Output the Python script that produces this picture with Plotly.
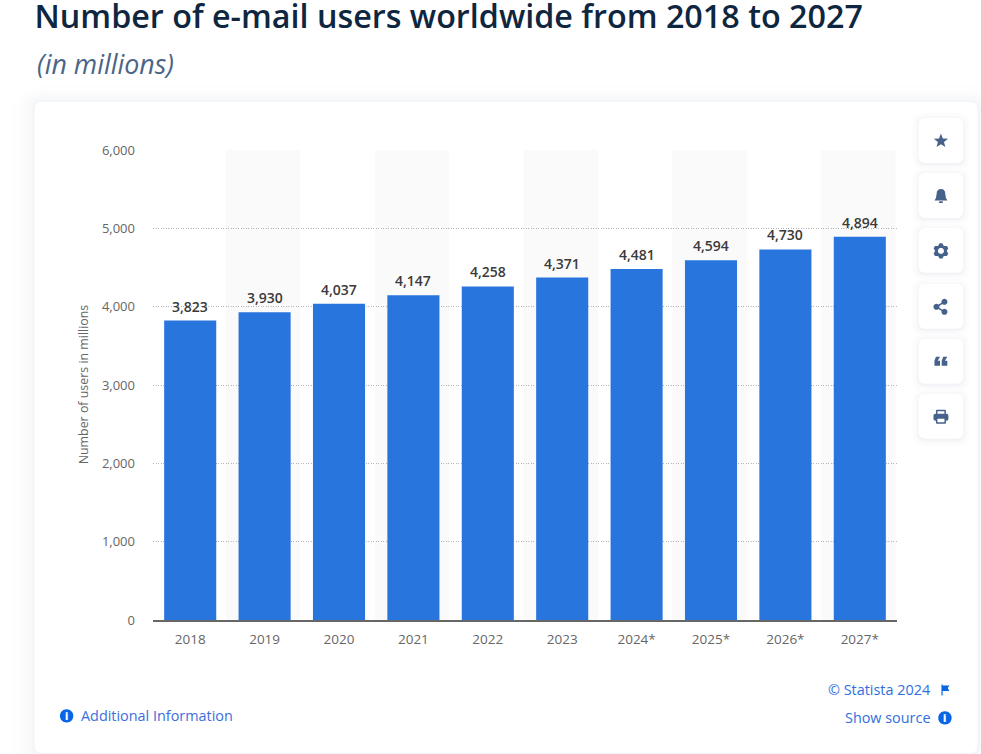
import math
import plotly.graph_objects as go

years = ["2018", "2019", "2020", "2021", "2022", "2023", "2024*", "2025*", "2026*", "2027*"]
users = [3823, 3930, 4037, 4147, 4258, 4371, 4481, 4594, 4730, 4894]
y_ticks = [0, 1000, 2000, 3000, 4000, 5000, 6000]
y_labels = ["0", "1,000", "2,000", "3,000", "4,000", "5,000", "6,000"]

W, H = 981, 754
L, R, T, B = 152.5, 897.5, 149, 620.5
Y_TOP = 6012.7
FONT = "Open Sans"
BLUE = "#2975de"
LINK = "#0666e5"
ICON = "#46628a"


def px(x):
    return (x - L) / (R - L)


def py(y):
    return (B - y) / (B - T)


def pt(x, y):
    return f"{px(x):.5f},{py(y):.5f}"


def poly(points):
    return "M" + " L".join(pt(x, y) for x, y in points) + " Z"


def rrect(x0, y0, x1, y1, r):
    return (
        f"M{pt(x0 + r, y0)} L{pt(x1 - r, y0)} Q{pt(x1, y0)} {pt(x1, y0 + r)} "
        f"L{pt(x1, y1 - r)} Q{pt(x1, y1)} {pt(x1 - r, y1)} "
        f"L{pt(x0 + r, y1)} Q{pt(x0, y1)} {pt(x0, y1 - r)} "
        f"L{pt(x0, y0 + r)} Q{pt(x0, y0)} {pt(x0 + r, y0)} Z"
    )


def circle(cx, cy, r, n=24):
    return poly([(cx + r * math.cos(2 * math.pi * i / n), cy + r * math.sin(2 * math.pi * i / n)) for i in range(n)])


def fill(path, color):
    return dict(type="path", xref="paper", yref="paper", path=path, fillcolor=color, line_width=0, layer="below")


shapes = []
# soft shadow and card
for grow, col in [(24, "#fefefe"), (18, "#fdfdfe"), (13, "#fbfbfc"), (8, "#f8f9fa"), (3, "#f4f5f8")]:
    shapes.append(fill(rrect(34 - grow, 102 - grow * 0.7, 978 + grow, 754 + grow, 8 + grow), col))
shapes.append(fill(rrect(34, 102, 978, 753.5, 7), "#ffffff"))

# alternating bands
for i in range(1, len(years), 2):
    shapes.append(dict(type="rect", xref="x", yref="y", x0=i - 0.52, x1=i + 0.48, y0=0, y1=6000,
                       fillcolor="#fafafa", line_width=0, layer="below"))

# side buttons
centers = [141, 196, 251, 307, 362, 417]
for cy in centers:
    for grow, col in [(6, "#fcfcfd"), (3, "#f8f9fa"), (1, "#f2f3f6")]:
        shapes.append(fill(rrect(919 - grow, cy - 23 - grow + 1, 964 + grow, cy + 22 + grow + 1, 7 + grow), col))
    shapes.append(fill(rrect(919, cy - 23, 964, cy + 22, 7), "#ffffff"))

cx = 941.5
# star
c = centers[0]
star = []
for i in range(10):
    r = 7.5 if i % 2 == 0 else 3.2
    a = -math.pi / 2 + i * math.pi / 5
    star.append((cx + r * math.cos(a), c + r * math.sin(a)))
shapes.append(fill(poly(star), ICON))
# bell
c = centers[1]
bell = [(cx, c - 7), (cx + 2.5, c - 6.5), (cx + 4, c - 4.5), (cx + 4.5, c - 1), (cx + 5, c + 2), (cx + 6.5, c + 4.5),
        (cx - 6.5, c + 4.5), (cx - 5, c + 2), (cx - 4.5, c - 1), (cx - 4, c - 4.5), (cx - 2.5, c - 6.5)]
shapes.append(fill(poly(bell), ICON))
shapes.append(fill(rrect(cx - 2, c + 5.3, cx + 2, c + 7, 0.8), ICON))
# gear
c = centers[2]
gear = []
for i in range(18):
    r = 7.8 if i % 3 in (0, 1) else 5.8
    a = i * 2 * math.pi / 18 - math.pi / 2 - math.pi / 18
    gear.append((cx + r * math.cos(a), c + r * math.sin(a)))
shapes.append(fill(poly(gear), ICON))
shapes.append(fill(circle(cx, c, 3), "#ffffff"))
# share
c = centers[3]
for x, y in [(cx - 4.5, c), (cx + 3.5, c - 5), (cx + 3.5, c + 5)]:
    shapes.append(fill(circle(x, y, 3), ICON))
shapes.append(dict(type="path", xref="paper", yref="paper", layer="below", line=dict(color=ICON, width=1.6),
                   path=f"M{pt(cx + 3.5, c - 5)} L{pt(cx - 4.5, c)} L{pt(cx + 3.5, c + 5)}"))
# quote marks
c = centers[4]
for x0 in (cx - 6.5, cx + 0.8):
    shapes.append(fill(poly([(x0, c - 1), (x0 + 1.5, c - 5), (x0 + 5.6, c - 5), (x0 + 3.2, c - 1),
                             (x0 + 5.6, c - 1), (x0 + 5.6, c + 4), (x0, c + 4)]), ICON))
# printer
c = centers[5]
shapes.append(fill(rrect(cx - 5, c - 7, cx + 5, c - 2, 1), ICON))
shapes.append(fill(rrect(cx - 3.5, c - 5.5, cx + 3.5, c - 2, 0.5), "#ffffff"))
shapes.append(fill(rrect(cx - 7.5, c - 3, cx + 7.5, c + 4, 2), ICON))
shapes.append(fill(rrect(cx - 5, c + 1, cx + 5, c + 7, 1), ICON))
shapes.append(fill(rrect(cx - 3.5, c + 2, cx + 3.5, c + 5.5, 0.5), "#ffffff"))
# flag
shapes.append(fill(poly([(942, 685), (943.2, 685), (943.2, 686), (950, 686), (948.3, 688.6), (950, 691.5),
                         (943.2, 691.5), (943.2, 696), (942, 696)]), LINK))
# info icons
shapes.append(fill(circle(945.5, 718.5, 6.7), LINK))
shapes.append(fill(circle(66, 716.5, 6.7), LINK))


def note(x, y, text, size, color, anchor="left", **kw):
    font = dict(family=FONT, size=size, color=color)
    font.update(kw.pop("font", {}))
    return dict(xref="paper", yref="paper", x=px(x), y=py(y), text=text, showarrow=False, xanchor=anchor,
                yanchor="middle", font=font, **kw)


annotations = [
    note(34, 63, "<i>(in millions)</i>", 26.8, "#4a6586"),
    note(933, 690, "© Statista 2024", 14.4, "#2f6fe0", anchor="right"),
    note(933, 718.5, "Show source", 14.4, "#2f6fe0", anchor="right"),
    note(78.5, 716.5, "Additional Information", 14.4, "#3a6ee0"),
    note(945.5, 718.5, "i", 10, "#ffffff", anchor="center", font=dict(weight=800)),
    note(66, 716.5, "i", 10, "#ffffff", anchor="center", font=dict(weight=800)),
]

# value labels, anchored to each bar through the data axes
for i, value in enumerate(users):
    annotations.append(dict(
        xref="x", yref="y", x=i, y=value, text=f"{value:,}", showarrow=False,
        xanchor="center", yanchor="bottom", yshift=3,
        font=dict(family=FONT, size=14, color="#3a3a3a", weight=600),
    ))

fig = go.Figure(
    go.Bar(
        x=years,
        y=users,
        width=0.7,
        marker=dict(color=BLUE, line_width=0),
        hoverinfo="skip",
    )
)

fig.update_layout(
    width=W,
    height=H,
    autosize=False,
    showlegend=False,
    paper_bgcolor="#ffffff",
    plot_bgcolor="rgba(0,0,0,0)",
    margin=dict(l=L, r=W - R, t=T, b=H - B, pad=0, autoexpand=False),
    font=dict(family=FONT),
    title=dict(
        text="Number of e-mail users worldwide from 2018 to 2027",
        x=34.5 / W,
        xanchor="left",
        xref="container",
        y=1 - 17 / H,
        yref="container",
        yanchor="middle",
        font=dict(family=FONT, size=32.3, color="#0f2640", weight=600),
    ),
    shapes=shapes,
    annotations=annotations,
    bargap=0.3,
    xaxis=dict(
        type="category",
        categoryorder="array",
        categoryarray=years,
        range=[-0.5, len(years) - 0.5],
        showline=True,
        linecolor="#666666",
        linewidth=1.5,
        showgrid=False,
        zeroline=False,
        ticks="",
        ticklabelstandoff=6,
        tickfont=dict(family=FONT, size=13.5, color="#666666"),
    ),
    yaxis=dict(
        range=[0, Y_TOP],
        tickmode="array",
        tickvals=y_ticks,
        ticktext=y_labels,
        showline=False,
        zeroline=False,
        showgrid=True,
        gridcolor="#b5b5b5",
        griddash="1px,1.5px",
        gridwidth=1,
        ticks="",
        ticklabelstandoff=17,
        tickfont=dict(family=FONT, size=13, color="#666666"),
        title=dict(text="Number of users in millions", standoff=10, font=dict(family=FONT, size=12.4, color="#666666")),
    ),
)

fig.write_html("out.html", config={"displayModeBar": False}, post_script="document.body.style.margin='0';")
